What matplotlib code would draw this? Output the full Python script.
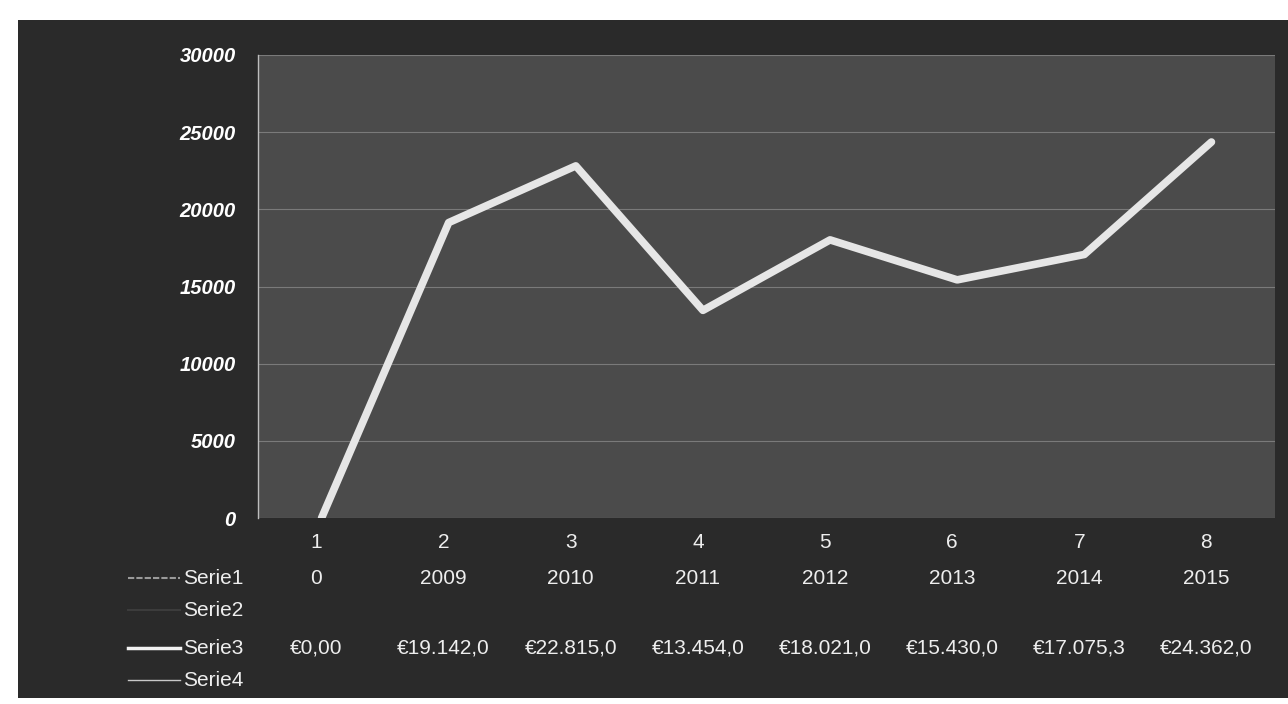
import matplotlib.pyplot as plt
from matplotlib.lines import Line2D
from matplotlib.patches import Rectangle
from matplotlib.transforms import blended_transform_factory

plt.rcParams['font.family'] = ['Liberation Sans', 'DejaVu Sans']

categories = [1, 2, 3, 4, 5, 6, 7, 8]
serie1 = [0, 2009, 2010, 2011, 2012, 2013, 2014, 2015]
serie3 = [0, 19142.0, 22815.0, 13454.0, 18021.0, 15430.0, 17075.3, 24362.0]
serie3_labels = ['€0,00', '€19.142,0', '€22.815,0', '€13.454,0',
                 '€18.021,0', '€15.430,0', '€17.075,3', '€24.362,0']
series_names = ['Serie1', 'Serie2', 'Serie3', 'Serie4']
yticks = [0, 5000, 10000, 15000, 20000, 25000, 30000]

W, H = 1288, 704
fig = plt.figure(figsize=(W / 100, H / 100), dpi=100, facecolor='white')

# dark panel behind everything
fig.patches.append(Rectangle((18 / W, 6 / H), 1 - 18 / W, 678 / H,
                             transform=fig.transFigure, facecolor='#2a2a2a',
                             edgecolor='none', zorder=-5))

ax = fig.add_axes([258 / W, 1 - 518 / H, (1275 - 258) / W, (518 - 55) / H])
ax.set_zorder(2)
ax.set_facecolor('#4b4b4b')
ax.set_xlim(0.5, 8.5)
ax.set_ylim(0, 30000)
ax.set_yticks(yticks)
ax.set_yticklabels([str(v) for v in yticks], fontsize=14.5, color='white',
                   fontweight='bold', fontstyle='italic')
ax.tick_params(axis='y', length=0, pad=16)
ax.set_xticks([])
for s in ax.spines.values():
    s.set_visible(False)
ax.spines['left'].set_visible(True)
ax.spines['left'].set_color('#bdbdbd')
ax.spines['left'].set_linewidth(1)
ax.grid(axis='y', color='#7a7a7a', linewidth=0.8)
ax.set_axisbelow(True)

ax.plot(categories, serie3, color='#e6e6e6', linewidth=5.5,
        solid_capstyle='round', solid_joinstyle='round', zorder=3)

# data table below the chart
tr = blended_transform_factory(ax.transData, fig.transFigure)
row_y = {'head': 543, 'Serie1': 578, 'Serie2': 610, 'Serie3': 648, 'Serie4': 680}
txt = dict(color='#eeeeee', fontsize=15, ha='center', va='center')
for c, s1, s3 in zip(categories, serie1, serie3_labels):
    ax.text(c - 0.04, 1 - row_y['head'] / H, str(c), transform=tr, clip_on=False, **txt)
    ax.text(c - 0.04, 1 - row_y['Serie1'] / H, str(s1), transform=tr, clip_on=False, **txt)
    ax.text(c - 0.04, 1 - row_y['Serie3'] / H, s3, transform=tr, clip_on=False, **txt)

# legend keys in the table
key_style = {
    'Serie1': dict(color='#9a9a9a', linewidth=1.5, linestyle=(0, (3, 1))),
    'Serie2': dict(color='#3c3c3c', linewidth=1.5),
    'Serie3': dict(color='#f2f2f2', linewidth=2.5),
    'Serie4': dict(color='#c8c8c8', linewidth=1),
}
for name in series_names:
    y = 1 - row_y[name] / H
    fig.lines.append(Line2D([128 / W, 180 / W], [y, y], transform=fig.transFigure,
                            **key_style[name]))
    fig.text(183 / W, y, name, color='#eeeeee', fontsize=15, ha='left', va='center')

fig.savefig('out.png', dpi=100, facecolor='white')
